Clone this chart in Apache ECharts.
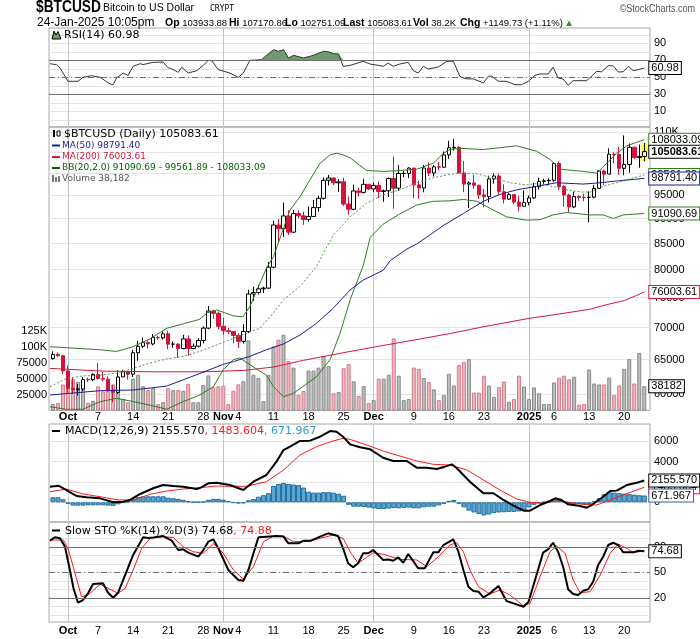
<!DOCTYPE html>
<html><head><meta charset="utf-8">
<script src="https://cdn.jsdelivr.net/npm/echarts@6/dist/echarts.min.js"></script>
<style>html,body{margin:0;padding:0;background:#fff}#c{width:700px;height:639px}</style>
</head><body><div id="c"></div>
<script>
// ---------- DATA (day index 0 = 28-Sep-2024 ... 118 = 24-Jan-2025) ----------
const opens = [65180,65790,65600,63330,60840,60630,60750,62070,62060,62820,
62230,62130,60580,60270,62450,63200,62850,66050,67040,67610,
67400,68420,68360,68990,67370,67380,66680,68190,66700,67050,
67940,69910,72720,72340,70200,69480,69370,68740,67810,69360,
75640,75900,76550,76680,80470,88700,87950,90580,87250,91070,
90600,89850,90460,92340,94340,98360,98880,97780,98010,93100,
91990,95960,95640,97460,96410,97190,95840,96000,98770,96590,
99920,99930,101170,97320,96620,101170,100040,101460,101370,104300,
106030,106140,100040,97490,97760,97220,95100,94690,98680,99340,
95790,94160,95160,93530,92640,93430,94420,96890,98110,98240,
98350,102240,96950,95060,92480,94720,94550,94540,94600,96530,
100500,99760,104460,104400,101100,102020,106150,103650,103933.88];
const closes = [65790,65600,63330,60840,60630,60750,62070,62060,62820,62230,
62130,60580,60270,62450,63200,62850,66050,67040,67610,67400,
68420,68360,68990,67370,67380,66680,68190,66700,67050,67940,
69910,72720,72340,70200,69480,69370,68740,67810,69360,75640,
75900,76550,76680,80470,88700,87950,90580,87250,91070,90600,
89850,90460,92340,94340,98360,98880,97780,98010,93100,91990,
95960,95640,97460,96410,97190,95840,96000,98770,96590,99920,
99930,101170,97320,96620,101170,100040,101460,101370,104300,106030,
106140,100040,97490,97760,97220,95100,94690,98680,99340,95790,
94160,95160,93530,92640,93430,94420,96890,98110,98240,98350,
102240,96950,95060,92480,94720,94550,94540,94600,96530,100500,
99760,104460,104400,101100,102020,106150,103650,103933.88,105083.61];
const highs = [66260,66080,65620,64130,62370,61450,62460,62360,62980,64480,
63170,62520,61290,63400,63480,63280,66490,67880,68400,67920,
68970,68670,69400,69490,67790,67440,68830,68760,67450,68320,
70200,73560,72960,72660,71560,69940,69390,69070,70560,76400,
76940,77200,76920,81470,89600,89900,93430,91770,91850,91760,
91450,92590,94000,94900,98990,99590,98960,98650,98950,94740,
97360,96650,98690,97460,97840,98150,96300,99000,103900,101900,
100550,101370,101200,98270,101890,102540,101900,102620,105120,107780,
108270,106470,102800,98120,99540,97400,96420,99400,99960,99880,
97480,95500,95190,94900,96090,94950,97780,98960,98740,98800,
102490,102700,97260,95350,95840,94990,95350,95880,97330,100680,
100780,105870,104920,106300,109110,107090,106330,106850,107170.86];
const lows = [65000,65420,62860,60190,60050,59830,60460,61720,61850,62130,
61850,60340,58900,60060,62450,62080,62450,64820,66760,66700,
67180,68030,68100,66590,66820,65260,66570,65590,66560,66870,
67480,69730,71430,69690,68820,68930,67480,66790,67460,69100,
74480,75570,75830,76510,80250,85200,86270,86700,87090,90090,
88740,89390,90380,91500,94060,97190,97230,95790,92640,90790,
91790,94720,95400,96160,95690,94400,93580,94660,92120,95980,
99060,98840,94360,94260,95690,99330,99220,100640,101230,103330,
105330,100030,95700,92230,96400,94200,92400,93440,97600,95140,
93220,94000,93050,91530,92600,92830,94190,96300,97560,97300,
97940,96170,92530,91260,92230,93850,93710,89260,94340,96510,
97330,99760,102290,99650,99520,100100,103330,101260,102751.09];
const volumes = [10200,11700,40800,55000,49500,45000,40000,12000,15000,38000,
30000,40000,41000,33000,18000,13000,50000,56000,38000,32000,
35000,10000,13000,35000,32000,32000,31000,42000,13000,13000,
40000,55000,37000,38000,39000,10000,31000,41000,46000,110000,
56000,51000,15000,56000,100500,111200,118800,77500,67300,24500,
30600,62700,62700,67300,85200,69900,27000,29100,66300,72900,
45900,23000,38300,11700,16300,50000,50000,56100,113200,54600,
16300,17900,67300,65300,51000,44900,33200,16300,24000,57600,
39300,71400,76500,80600,28000,28000,54600,39300,21400,36700,
45400,13800,17900,54600,37700,17900,36200,27000,10200,10200,
43900,51500,54600,49000,53000,9200,10200,64300,42300,40800,
40800,51500,24000,39300,65300,80600,42300,90300,38182];

// Overlays as [dayIndex, value]
const ma50 = [[-0.6,59900],[9.4,60500],[16,60600],[22.7,61150],[29.3,62950],[34,64300],[36,64700],[39.3,65500],[42.6,66500],[46,67400],[49.3,68800],[52.6,70700],[55.9,73180],[59.3,76350],[61.9,78100],[65.9,79900],[67.3,81700],[70.6,83900],[72.6,84900],[77.9,88600],[81.9,91100],[85.9,93700],[89.2,95200],[92.5,96200],[96.5,97000],[100.5,97800],[105.8,97500],[109.2,97800],[112.5,98200],[118,98791.40]];
const ma200 = [[-0.6,63700],[10,63300],[20,63200],[30,63200],[38,63400],[44,63900],[50,64900],[59,66200],[64,66900],[72,68000],[79,69000],[86,70140],[95,71500],[100,72100],[107,73000],[111,73900],[114,74500],[116.5,75400],[118,76003.61]];
const bbUpper = [[-0.6,66970],[9.4,66500],[12.7,66240],[16,66970],[19.4,68200],[22.7,69880],[25.9,70580],[29.3,71350],[30.7,72400],[32.7,72900],[36,71920],[37.9,71750],[39.3,73500],[42.6,80300],[44,82450],[47.3,91800],[49.3,94700],[51.3,98500],[53.3,102300],[55.3,104300],[56.6,104700],[57.9,104300],[59.3,103600],[62.6,100600],[65.9,100400],[69.3,100600],[72.6,100900],[75.9,102300],[77.9,104700],[79.2,105600],[81.2,105900],[85.9,105600],[92.5,106500],[96.5,105200],[99.2,103200],[101.2,100900],[105.8,100400],[108.5,100000],[110.5,102300],[112.5,104700],[114.5,106500],[118,108033.09]];
const bbLower = [[-0.6,58300],[2.7,57960],[6,57960],[9.4,58980],[12.7,59450],[16,59000],[19.4,58500],[22.7,57960],[26,59000],[29.3,59900],[32,61060],[34,63500],[36,65000],[37.3,65250],[40,63900],[42.6,62700],[44,61070],[46,59670],[48,60140],[50.6,61450],[52.6,62500],[55.3,65000],[57.3,69100],[59.3,74650],[61.9,80700],[63.3,86180],[65.9,88900],[69.2,91000],[72.6,92900],[75.9,93700],[79.2,93800],[81.9,94100],[84.6,93700],[87.2,92200],[90.5,90400],[94.5,89700],[97.2,89800],[99.8,90800],[102.5,91300],[107.2,90800],[109.8,90800],[111.8,90050],[113.8,90800],[118,91090.69]];
const bbMid = [[-0.6,61060],[2.7,62250],[6,62600],[9.4,62700],[12.7,63000],[16,63700],[19.4,64500],[22.7,65100],[26,65500],[29.3,66250],[32.7,67250],[36,68300],[39.3,69300],[41.3,69900],[44,72400],[46,74650],[49.3,77000],[52.6,80600],[53.9,83000],[55.9,86600],[59.3,90400],[62.6,93300],[65.9,95100],[69.2,96200],[72.6,97800],[75.9,98900],[79.2,99700],[81.2,100000],[84.6,99800],[87.9,98900],[91.2,97800],[94.5,97300],[96.5,97600],[100.5,96800],[103.2,96050],[105.8,95700],[107.2,95700],[109.2,96800],[112.5,97800],[115.8,98900],[118,99561.89]];
const rsi = [[-0.6,66],[0.7,64.8],[1.4,61],[3,45.3],[5,45.3],[6,50],[7.7,51.9],[9.4,50],[11.4,42.1],[12,41.3],[12.7,49.2],[14,55],[15,52.3],[16,62.9],[17.4,66],[18,65],[20,67.6],[22,68],[23,61],[23.5,60.5],[25,55.9],[25.7,61.8],[27,55],[28.7,57.8],[30,64.1],[31,70],[31.7,69.5],[33,59],[35.3,55],[37,50],[38,55],[39.3,70],[41.6,70.7],[44,82.5],[45,80.6],[46,82.5],[47,72.7],[48,75.9],[50,72.7],[52,75.9],[54,80.6],[55,80],[56,77.8],[57,77.5],[57.9,62.9],[59.3,64],[61.9,68.8],[63.3,65.6],[65,64],[65.9,62.9],[66.9,66.8],[67.9,62.9],[69.2,65.6],[70.9,67.6],[71.9,57.8],[72.9,55],[73.9,62.9],[74.9,59.8],[76.9,62.1],[78.6,68.8],[79.9,68.8],[81.2,51.2],[82.2,48.4],[84,48],[85.9,43.3],[86.9,51.2],[87.5,51.5],[88.9,45.3],[90.5,45.3],[92.2,41.3],[93.5,41.3],[94.9,45.3],[96.2,52.4],[97.2,53.9],[98.8,53.9],[99.8,61.8],[100.8,49.2],[101.8,48],[102.8,40.6],[103.8,46],[106.5,46],[108.5,57],[109.5,56.5],[110.8,63.6],[111.8,63.6],[112.8,56.2],[113.8,56.5],[114.8,62.9],[115.8,57.8],[116.8,59],[118,60.98]];
const macd = [[-0.6,1540],[1.1,1640],[2.7,1210],[4.7,620],[6.7,490],[9.4,390],[12,0],[14,60],[15.4,230],[17.4,820],[20,1380],[22,1700],[24,1600],[26,1540],[28.7,1310],[29.5,1450],[31,1870],[32.7,1930],[35.3,1700],[38,1210],[40,2030],[42.6,2690],[44.6,4000],[46,5150],[47.3,5480],[49.3,6040],[51.3,6070],[53.3,6460],[55.3,7020],[56.6,6950],[57.9,6460],[59.3,5710],[61.3,5420],[63.3,5220],[65.9,4390],[67.9,4070],[70.6,4070],[72.6,3410],[74.6,3410],[76.6,3280],[78.2,3510],[79.6,3740],[80.6,3350],[83.2,2030],[85.9,890],[87.9,890],[89.9,230],[91.9,-330],[93.9,-830],[95.2,-830],[97.2,-270],[99.2,130],[100.2,390],[101.5,230],[102.8,-200],[105.2,-360],[106.5,-530],[107.5,-270],[109.8,550],[111.2,1110],[112.5,1150],[114.5,1700],[116.5,1930],[118,2155.570]];
const signal = [[-0.6,1040],[2.7,1310],[6,820],[9.4,550],[13,230],[16,230],[19.4,790],[22.7,1110],[26,1310],[29.3,1440],[32.7,1600],[36,1580],[38.7,1580],[42.6,2030],[46,3180],[49.3,4660],[52.6,5480],[55.9,6040],[57.9,6300],[59.3,6200],[62.6,5640],[65.9,5050],[69.2,4560],[72.6,4070],[75.9,3740],[79.2,3670],[82.6,3180],[85.9,2200],[89.2,1210],[92.5,330],[95.2,0],[97.8,-100],[100.5,130],[103.2,0],[105.8,-200],[108.5,-270],[111.2,230],[113.8,720],[116.5,1210],[118,1483.604]];
const histogram = [500,500,300,-150,-330,-330,-330,-300,-300,-300,
-300,-330,-350,-200,-50,100,300,500,590,590,
590,590,590,450,400,330,250,100,30,30,
60,250,330,330,250,120,-60,-120,-100,200,
330,550,700,900,1600,1800,1900,1800,1750,1700,
1450,1050,950,950,1000,1000,950,850,650,-250,
-430,-430,-460,-520,-600,-660,-660,-620,-560,-590,
-560,-520,-590,-600,-490,-430,-430,-300,-150,150,
230,-150,-500,-820,-1000,-1150,-1300,-1200,-1050,-1000,
-980,-950,-950,-900,-820,-500,-250,-100,30,150,
300,250,60,-150,-200,-200,-230,-200,80,400,
800,1000,950,900,850,800,750,700,671.967];
const stoK = [[-0.6,87.2],[0.4,91.2],[1.4,90],[2.4,80.1],[3.1,60.6],[4.1,31.2],[5,14.2],[6,17.4],[7,25.3],[8,36.2],[10,37],[11,26],[12,20.1],[13,26],[14,40.9],[16,70.4],[18,91.2],[19,90.5],[20,91],[22,92.7],[23.7,87.2],[25,76.2],[26,77],[27,73.1],[29,68.4],[30,76.2],[31,86],[32,88.8],[33,78.2],[35,52.7],[37,40.9],[38,40.1],[39,52.7],[41,91.2],[42.6,91.9],[44.6,92.7],[46,92],[47,84.1],[49,84.1],[50,87.2],[51.5,87.2],[53.3,91.9],[54.9,95.9],[56.9,92.7],[57.9,78.2],[58.9,60.6],[59.9,55.9],[60.9,60.6],[61.9,72.4],[62.9,72.4],[63.9,76.2],[65.9,64.5],[66.9,65],[67.9,63.6],[68.9,67.6],[69.9,61.3],[70.9,71.5],[72.9,54.7],[74.2,54.7],[75.9,73.5],[76.9,73.5],[77.9,82.1],[79.9,88.8],[80.9,74.2],[81.9,52.7],[82.9,33.1],[83.9,28],[84.9,27.2],[85.9,20.6],[87.2,25.3],[88.9,33.9],[90.5,16.2],[91.9,13.5],[93.9,9.5],[94.9,15.4],[96.2,40.9],[97.8,73.1],[98.8,77],[99.8,84.8],[100.8,74.2],[101.8,56.6],[102.8,30],[103.8,24.5],[104.8,23.3],[105.8,28.4],[106.8,30],[107.8,38.9],[108.8,58.6],[109.8,68.4],[110.8,82.1],[111.8,84.8],[112.8,82],[113.8,73.5],[115.8,73.5],[116.8,75.4],[118,74.68]];
const stoD = [[-0.6,88],[2.1,88],[3.1,76.2],[4.4,48.8],[5.7,21.3],[7,23.3],[9.4,35.9],[11,31.2],[13,25.3],[14.4,31.2],[16,52.7],[17.7,78.2],[19.4,90],[22,91.9],[24,91],[26,80.1],[28,74.2],[30,72.4],[32,84.1],[34,72.4],[36,52.7],[38,41.8],[40,56.6],[42,86],[44,92.7],[46,92.5],[48,86],[51,86.5],[53.3,90],[55.9,93.9],[57.9,90],[59.3,74.2],[60.9,60.6],[63.9,73.1],[65.9,71.2],[69.2,65.3],[72.6,64.5],[74.6,56.6],[76.9,68.4],[79.2,82.1],[80.6,84.8],[81.9,74.2],[83.2,52.7],[84.9,33.1],[87.2,24.5],[89.2,29.2],[91.2,23.3],[93.9,10.4],[95.2,13.5],[97.2,44.8],[99.2,74.2],[100.5,80.9],[102.2,72.4],[103.8,40.9],[105.2,26],[107.2,27.2],[109.2,46.8],[111.2,72.4],[112.8,83.3],[114.5,78.2],[115.8,73.5],[118,74.88]];

// Axis ticks / labels
const xTickIdx  = [3,9,16,23,30,34,37,44,51,58,64,72,79,86,95,100,107,114];
const xTickText = ['Oct','7','14','21','28','Nov','4','11','18','25','Dec','9','16','23','2025','6','13','20'];
const monthIdx  = [3,34,64,95];
const priceTicks = [60000,65000,70000,75000,80000,85000,90000,95000,100000,105000,110000];
const volTicks   = [25000,50000,75000,100000,125000];
const rsiTicks   = [10,30,50,70,90];
const tenths     = [0,10,20,30,40,50,60,70,80,90,100];
const macdTicks  = [0,2000,4000,6000];
const stoTicks   = [20,50,80];

// ---------- CHART ----------
const xMin = -0.79, xMax = 119.14;
const FONT = 'Liberation Sans';
const kfmt = v => v >= 100000 ? (v/1000) + 'K' : String(v);

function tag(border, digits, bold) {
  return { show:true, distance:5, position:'right',
    formatter: p => { const v = Array.isArray(p.value) ? p.value[1] : p.value; return Number(v).toFixed(digits); },
    backgroundColor:'#fff', borderColor:border, borderWidth:1, padding:[1,2,0,2],
    color:'#000', fontSize:11, fontFamily:FONT, fontWeight: bold ? 'bold' : 'normal' };
}
function refLines(hi, lo) {
  return { silent:true, symbol:'none', label:{show:false}, animation:false,
    data:[ {yAxis:hi, lineStyle:{color:'#707070', type:'solid', width:1}},
           {yAxis:lo, lineStyle:{color:'#707070', type:'solid', width:1}},
           {yAxis:50, lineStyle:{color:'#707070', type:[6,3,1,3], width:1}} ] };
}
function xAx(gi, showLabels, margin) {
  return { type:'value', gridIndex:gi, min:xMin, max:xMax,
    axisLine:{show:false}, axisTick:{show:false, customValues:monthIdx},
    splitLine:{show:true, lineStyle:{color:'#c4c4c4', width:1}},
    axisLabel:{ show:showLabels, customValues:xTickIdx, margin:margin, fontSize:11, fontFamily:FONT, color:'#000',
      formatter: v => { const k = xTickIdx.indexOf(Math.round(v)); if (k < 0) return '';
        const t = xTickText[k]; return monthIdx.indexOf(xTickIdx[k]) >= 0 ? '{b|' + t + '}' : t; },
      rich:{ b:{fontWeight:'bold', fontSize:11, fontFamily:FONT, color:'#000'} } } };
}
function yAx(gi, o) {
  return Object.assign({ type:'value', gridIndex:gi, position:'right',
    axisLine:{show:false},
    axisTick:{show:false, customValues:o.split},
    splitLine:{show:true, lineStyle:{color:'#e4e4e4', width:1}},
    axisLabel:{ customValues:o.labels, margin:4, fontSize:11, fontFamily:FONT, color:'#000', formatter:o.fmt || (v => String(v)) } }, o.extra);
}
function gridBox(top, height) {
  return { left:49, top:top, width:601, height:height, show:true, borderColor:'#a8a8a8', borderWidth:1,
    backgroundColor:'rgba(0,0,0,0)', containLabel:false, outerBoundsMode:'none' };
}
function line(data, xi, yi, color, width, extra) {
  return Object.assign({ type:'line', data:data, xAxisIndex:xi, yAxisIndex:yi, symbol:'none', showSymbol:false,
    silent:true, z:3, lineStyle:{color:color, width:width}, itemStyle:{color:color} }, extra || {});
}

const series = [
  // RSI
  line(rsi.map(p => [p[0], Math.max(p[1], 70)]), 0, 0, '#6e9a6c', 0,
       { lineStyle:{width:0, opacity:0}, areaStyle:{origin:70, color:'#6e9a6c', opacity:1}, z:2 }),
  line(rsi, 0, 0, '#333333', 1, { endLabel:tag('#000', 2), markLine:refLines(70, 30) }),
  // Volume
  { type:'bar', xAxisIndex:1, yAxisIndex:2, barWidth:4, z:1, silent:true,
    data: volumes.map((v, i) => ({ value:[i, v], itemStyle: closes[i] >= opens[i]
      ? {color:'#bdbdbd', borderColor:'#8a8a8a', borderWidth:1}
      : {color:'#ebb7bf', borderColor:'#d77a8b', borderWidth:1} })),
    markPoint:{ symbol:'circle', symbolSize:0, silent:true, animation:false,
      data:[{ coord:[118, volumes[118]], value:volumes[118] }], label:tag('#000', 0) } },
  // Candles
  { type:'candlestick', xAxisIndex:1, yAxisIndex:1, barWidth:4, z:2, silent:true,
    encode:{ x:0, y:[1,2,3,4] },
    data: closes.map((c, i) => [i, opens[i], c, lows[i], highs[i]]),
    itemStyle:{ color:'#ffffff', color0:'#d2143a', borderColor:'#000000', borderColor0:'#d2143a', borderWidth:1 },
    markArea:{ silent:true, animation:false, itemStyle:{color:'#ffff4d'},
      data:[[ {coord:[117.3, highs[118]]}, {coord:[118.7, lows[118]]} ]] },
    markPoint:{ symbol:'circle', symbolSize:0, silent:true, animation:false,
      data:[{ coord:[118, closes[118]], value:closes[118] }], label:tag('#000', 2, true) } },
  line(ma200, 1, 1, '#d4183d', 1, { endLabel:tag('#d4183d', 2) }),
  line(bbUpper, 1, 1, '#2e7d1f', 1, { endLabel:tag('#2e7d1f', 2) }),
  line(bbLower, 1, 1, '#2e7d1f', 1, { endLabel:tag('#2e7d1f', 2) }),
  line(bbMid, 1, 1, '#4f9a43', 1, { lineStyle:{color:'#4f9a43', width:1, type:[2,2]}, endLabel:tag('#2e7d1f', 2) }),
  line(ma50, 1, 1, '#1c1c96', 1, { endLabel:tag('#1c1c96', 2) }),
  // MACD
  { type:'bar', xAxisIndex:2, yAxisIndex:3, barWidth:5, z:1, silent:true,
    data: histogram.map((v, i) => [i, v]),
    itemStyle:{ color:'#5aa5d4', borderColor:'#23709e', borderWidth:1 },
    markPoint:{ symbol:'circle', symbolSize:0, silent:true, animation:false,
      data:[{ coord:[118, histogram[118]], value:histogram[118] }], label:tag('#3b58a0', 3) } },
  line(signal, 2, 3, '#ff1a1a', 1, { endLabel:tag('#ff1a1a', 3) }),
  line(macd, 2, 3, '#000000', 2, { endLabel:tag('#000', 3) }),
  // Slow STO
  line(stoD, 3, 4, '#ff1a1a', 1),
  line(stoK, 3, 4, '#000000', 2, { endLabel:tag('#000', 2), markLine:refLines(80, 20) })
];

// ---------- header / legends ----------
function txt(x, y, text, o, sx) {
  const el = { type:'text', x:x, y:y, silent:true, z:100,
    style:Object.assign({ text:text, fill:'#000', fontSize:11, fontFamily:'DejaVu Sans', verticalAlign:'middle', align:'left' }, o || {}) };
  if (sx) el.scaleX = sx;
  return el;
}
function rect(x, y, w, h, fill, stroke) {
  return { type:'rect', silent:true, z:100, shape:{x:x, y:y, width:w, height:h},
    style:{ fill:fill, stroke:stroke || null, lineWidth:1 } };
}
const NW = 0.82; // narrow-face emulation
const hdr2 = { fontSize:9.5, fontFamily:FONT, rich:{ b:{ fontWeight:'bold', fontSize:10.5, fontFamily:FONT, fill:'#000' } } };
const graphics = [
  txt(36, 8, '$BTCUSD', { fontSize:16, fontWeight:'bold', fontFamily:FONT }, 0.86),
  txt(103, 8.5, 'Bitcoin to US Dollar', { fontSize:10.5, fontFamily:FONT }),
  txt(210, 8.5, 'CRYPT', { fontSize:8, fontFamily:'DejaVu Sans Mono' }),
  txt(695, 9, '\u00A9StockCharts.com', { fontSize:11, fontFamily:FONT, fill:'#555', align:'right' }, NW),
  txt(37, 23, '24-Jan-2025 10:05pm', { fontSize:12, fontFamily:FONT }),
  txt(165, 23, '{b|Op} 103933.88', hdr2),
  txt(229, 23, '{b|Hi} 107170.86', hdr2),
  txt(285, 23, '{b|Lo} 102751.09', hdr2),
  txt(343, 23, '{b|Last} 105083.61', hdr2),
  txt(413, 23, '{b|Vol} 38.2K', hdr2),
  txt(460, 23, '{b|Chg} +1149.73 (+1.11%)', hdr2),
  { type:'polygon', silent:true, z:100, shape:{ points:[[566,26],[572,26],[569,20.5]] }, style:{ fill:'#2a9a2a' } },
  // RSI legend
  { type:'polygon', silent:true, z:100, shape:{ points:[[52,39],[54,31],[56,35],[58,31.5],[61,39]] }, style:{ fill:'#6e9a6c', stroke:'#000', lineWidth:1 } },
  txt(64, 35, 'RSI(14) 60.98'),
  // Main legend
  rect(53, 130, 2, 7, '#000'), rect(57, 131, 3, 5, '#fff', '#000'),
  txt(64, 134, '$BTCUSD (Daily) 105083.61'),
  rect(52, 144.5, 8, 2, '#1c1c96'), txt(62, 145.7, 'MA(50) 98791.40', { fontSize:9, fill:'#1c1c96' }),
  rect(52, 156, 8, 2, '#d4183d'), txt(62, 157, 'MA(200) 76003.61', { fontSize:9, fill:'#d4183d' }),
  rect(52, 167, 8, 2, '#006400'), txt(62, 168, 'BB(20,2.0) 91090.69 - 99561.89 - 108033.09', { fontSize:9, fill:'#006400' }),
  rect(52, 175, 2, 7, '#777'), rect(55, 177, 2, 5, '#777'), rect(58, 176, 2, 6, '#777'),
  txt(62, 178.7, 'Volume 38,182', { fontSize:9, fill:'#555' }),
  // MACD legend
  rect(52, 430, 8, 2, '#000'),
  txt(65, 431, '{a|MACD(12,26,9) 2155.570}{r|, 1483.604}{c|, 671.967}',
      { rich:{ a:{fill:'#000', fontSize:11, fontFamily:'DejaVu Sans'}, r:{fill:'#ff1a1a', fontSize:11, fontFamily:'DejaVu Sans'}, c:{fill:'#3399cc', fontSize:11, fontFamily:'DejaVu Sans'} } }),
  // STO legend
  rect(52, 529.5, 8, 2, '#000'),
  txt(65, 530.7, '{a|Slow STO %K(14) %D(3) 74.68}{r|, 74.88}',
      { rich:{ a:{fill:'#000', fontSize:11, fontFamily:'DejaVu Sans'}, r:{fill:'#ff1a1a', fontSize:11, fontFamily:'DejaVu Sans'} } })
];

const option = {
  animation:false,
  backgroundColor:'#ffffff',
  textStyle:{ fontFamily:FONT },
  grid:[ gridBox(28, 99), gridBox(127, 283.5), gridBox(424, 98), gridBox(522, 100) ],
  xAxis:[ xAx(0, false, 0), xAx(1, true, 1), xAx(2, false, 0), xAx(3, true, 3) ],
  yAxis:[
    yAx(0, { split:tenths, labels:rsiTicks, extra:{ min:-8.47, max:108 } }),
    yAx(1, { split:priceTicks, labels:priceTicks, fmt:kfmt, extra:{ type:'log', logBase:10, min:57796, max:111237 } }),
    { type:'value', gridIndex:1, position:'left', min:0, max:445000,
      axisLine:{show:false}, axisTick:{show:false}, splitLine:{show:false},
      axisLabel:{ customValues:volTicks, margin:2, fontSize:11, fontFamily:FONT, color:'#000', formatter:kfmt } },
    yAx(2, { split:macdTicks, labels:macdTicks, extra:{ min:-1941, max:7714 } }),
    yAx(3, { split:tenths, labels:stoTicks, extra:{ min:-8.47, max:109.2 } })
  ],
  graphic:{ elements:graphics },
  series:series
};
const chart = echarts.init(document.getElementById('c'), null, { renderer:'canvas', width:700, height:639 });
chart.setOption(option);
</script></body></html>
